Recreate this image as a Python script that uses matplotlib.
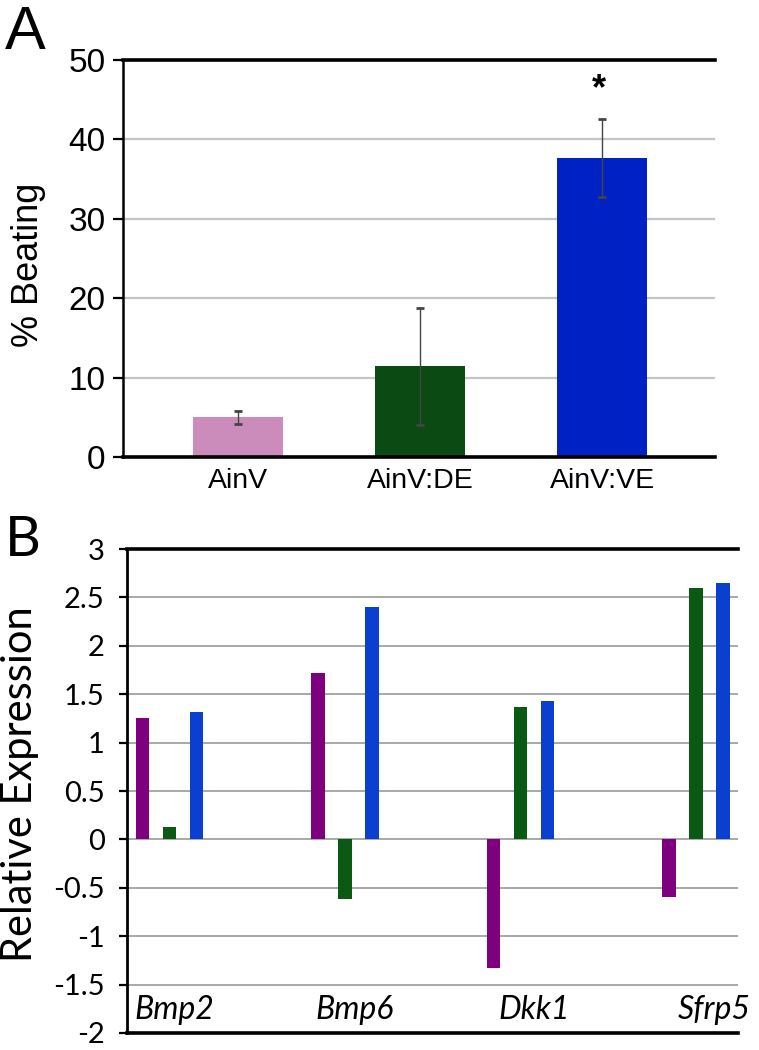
import numpy as np
import matplotlib
matplotlib.use("Agg")
import matplotlib.pyplot as plt

plt.rcParams['axes.unicode_minus'] = False

# panel A data
groups_a = ["AinV", "AinV:DE", "AinV:VE"]
beating = [5.0, 11.4, 37.7]
beating_err = [0.8, 7.4, 4.9]
colors_a = ["#cc8cbb", "#0b4a12", "#0022c4"]
star_value = 46.3

# panel B data
genes = ["Bmp2", "Bmp6", "Dkk1", "Sfrp5"]
expr_ainv = [1.25, 1.72, -1.33, -0.60]
expr_de = [0.13, -0.62, 1.37, 2.60]
expr_ve = [1.32, 2.40, 1.43, 2.65]
colors_b = ["#7f007f", "#0b5a13", "#0b3fd0"]

fig = plt.figure(figsize=(7.59, 10.5), dpi=100)

# ---------- A ----------
axA = fig.add_axes([0.1626, 0.5648, 0.9420 - 0.1626, 0.9429 - 0.5648])
xa = np.arange(len(groups_a))
axA.bar(xa, beating, width=0.494, color=colors_a, zorder=2)
axA.errorbar(xa, beating, yerr=beating_err, fmt="none", ecolor="#444444",
             elinewidth=1.0, capsize=3, capthick=2, zorder=3)
axA.text(xa[2] - 0.02, star_value, "*", ha="center", va="center",
         fontsize=26, fontweight="bold", family="Liberation Sans")
axA.set_xlim(-0.632, 2.619)
axA.set_ylim(0, 50)
axA.set_yticks([0, 10, 20, 30, 40, 50])
axA.set_xticks(xa)
axA.set_xticklabels(groups_a, family="Liberation Sans", fontsize=20.5)
for lab in axA.get_yticklabels():
    lab.set_family("Liberation Sans")
    lab.set_fontsize(24)
axA.tick_params(axis="x", length=0, pad=8)
axA.tick_params(axis="y", length=7, width=1.6, pad=6)
axA.set_axisbelow(True)
axA.yaxis.grid(True, color="#c4c4c4", lw=1.6)
axA.spines["right"].set_visible(False)
for s in ["top", "bottom"]:
    axA.spines[s].set_linewidth(2.6)
axA.spines["left"].set_linewidth(1.8)
fig.text(29 / 759, 0.7476, "% Beating", family="Liberation Sans", fontsize=26,
         rotation=90, ha="center", va="center")
fig.text(0.007, 0.995, "A", family="Liberation Sans", fontsize=44,
         ha="left", va="top")

# ---------- B ----------
axB = fig.add_axes([0.1673, 0.0162, 0.9723 - 0.1673, 0.4771 - 0.0162])
xb = np.arange(len(genes))
off = 0.154
bw = 0.077
for k, (vals, c) in enumerate(zip([expr_ainv, expr_de, expr_ve], colors_b)):
    axB.bar(xb + (k - 1) * off, vals, width=bw, color=c, zorder=2)
axB.set_xlim(-0.242, 3.239)
axB.set_ylim(-2, 3)
yt = np.arange(-2, 3.01, 0.5)
axB.set_yticks(yt)
axB.set_yticklabels([f"{v:g}" for v in yt], family="Lato", fontsize=21)
axB.set_xticks([])
axB.tick_params(axis="y", length=6, width=1.6, pad=10)
axB.set_axisbelow(True)
axB.yaxis.grid(True, color="#a8a8a8", lw=1.4)
axB.spines["right"].set_visible(False)
for s in ["top", "bottom"]:
    axB.spines[s].set_linewidth(2.6)
axB.spines["left"].set_linewidth(2.0)
for i, g in enumerate(genes):
    axB.text(i + 0.03 + 0.025 * i, -1.855, g, ha="center", va="baseline",
             family="Lato", style="italic", fontsize=23)
fig.text(20 / 759, 0.2529, "Relative Expression", family="Lato", fontsize=30,
         rotation=90, ha="center", va="center")
fig.text(0.006, 0.51, "B", family="Lato", fontsize=40, ha="left", va="top")

fig.savefig("out.png", dpi=100)
